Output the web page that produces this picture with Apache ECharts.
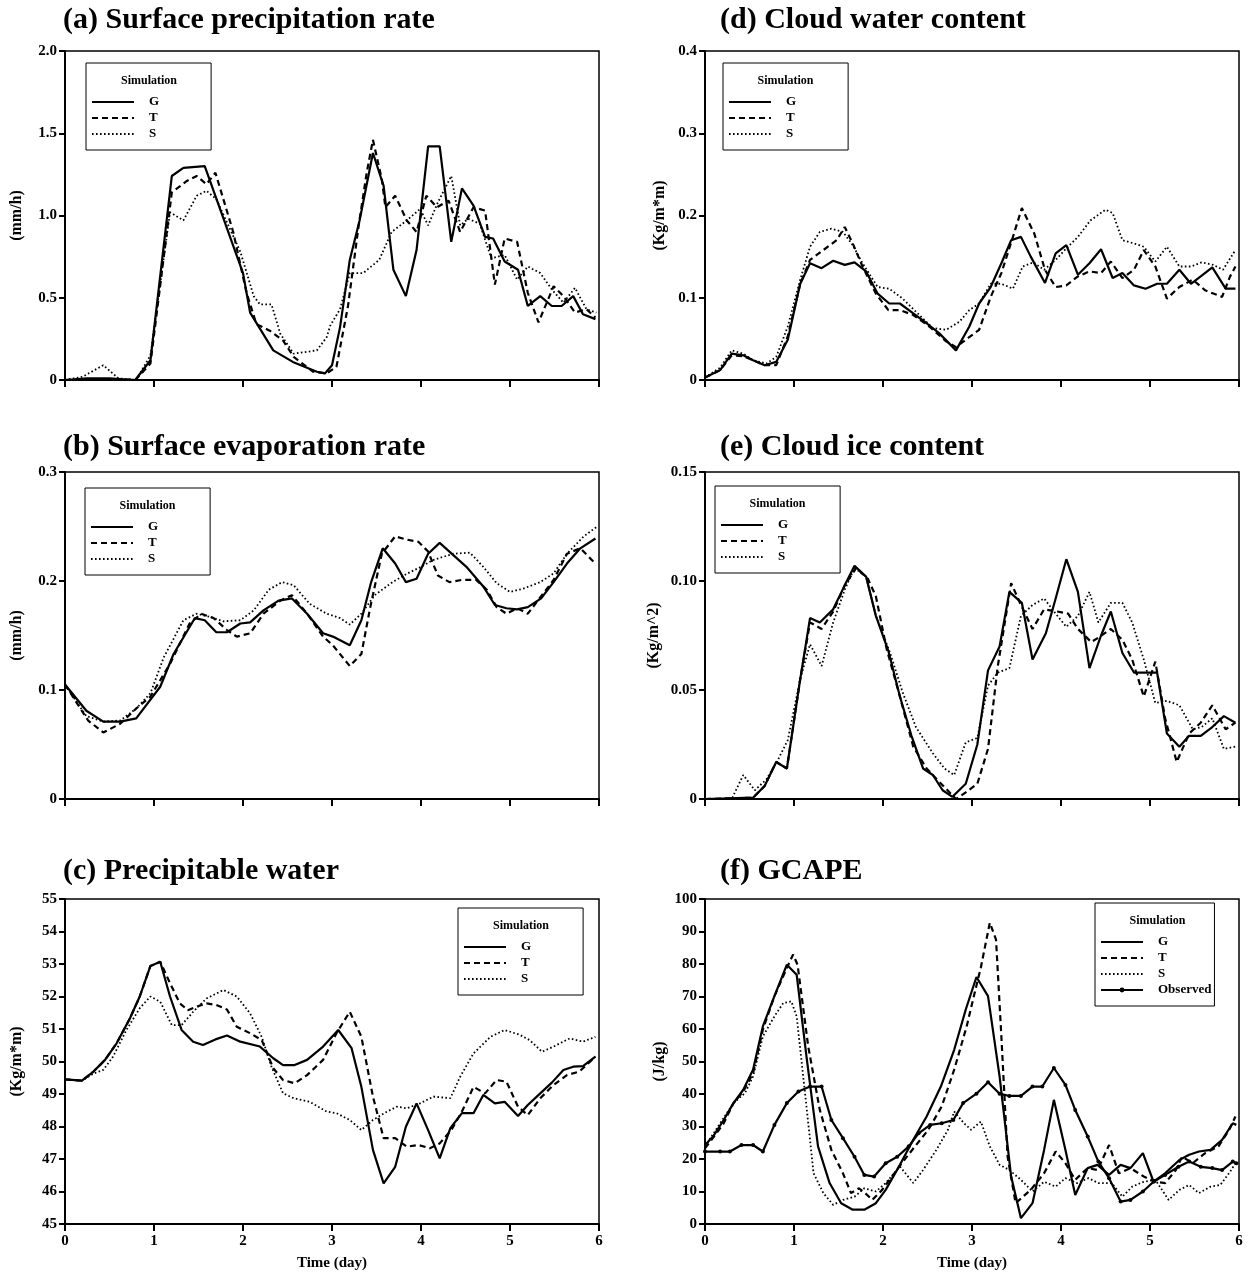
<!DOCTYPE html>
<html>
<head>
<meta charset="utf-8">
<script src="https://cdn.jsdelivr.net/npm/echarts@6/dist/echarts.min.js"></script>
<style>
html,body{margin:0;padding:0;background:#fff}
#chart{width:1250px;height:1279px}
</style>
</head>
<body>
<div id="chart"></div>
<script>
// Each series: [time (day), value] pairs.

// (a) Surface precipitation rate (mm/h)
const precipG = [[0,0],[0.25,0.01],[0.5,0.01],[0.79,0],[0.96,0.12],[1.2,1.24],[1.33,1.29],[1.57,1.30],[2.0,0.65],[2.08,0.41],[2.34,0.18],[2.56,0.11],[2.83,0.05],[2.92,0.04],[3.0,0.09],[3.09,0.32],[3.2,0.73],[3.31,0.97],[3.46,1.38],[3.58,1.18],[3.69,0.67],[3.83,0.51],[3.95,0.79],[4.08,1.42],[4.21,1.42],[4.34,0.84],[4.46,1.165],[4.59,1.06],[4.72,0.87],[4.81,0.86],[4.94,0.72],[5.09,0.67],[5.2,0.45],[5.34,0.51],[5.47,0.45],[5.58,0.45],[5.71,0.51],[5.82,0.40],[5.96,0.37]];
const precipT = [[0,0],[0.5,0.005],[0.79,0],[0.96,0.1],[1.2,1.14],[1.37,1.21],[1.48,1.24],[1.59,1.19],[1.69,1.26],[1.89,0.90],[2.04,0.53],[2.15,0.34],[2.3,0.30],[2.45,0.24],[2.57,0.14],[2.79,0.05],[2.94,0.04],[3.05,0.08],[3.18,0.45],[3.3,0.94],[3.39,1.26],[3.46,1.46],[3.56,1.22],[3.6,1.05],[3.71,1.12],[3.84,0.97],[3.95,0.90],[4.06,1.12],[4.18,1.05],[4.31,1.09],[4.44,0.90],[4.59,1.05],[4.72,1.03],[4.83,0.58],[4.94,0.86],[5.08,0.84],[5.2,0.53],[5.32,0.35],[5.49,0.57],[5.6,0.51],[5.73,0.41],[5.86,0.43],[5.96,0.38]];
const precipS = [[0,0],[0.2,0.02],[0.43,0.09],[0.6,0.01],[0.8,0.0],[0.96,0.15],[1.18,1.02],[1.33,0.97],[1.48,1.12],[1.59,1.15],[1.7,1.10],[1.97,0.78],[2.12,0.51],[2.19,0.46],[2.32,0.46],[2.42,0.28],[2.57,0.16],[2.83,0.18],[2.94,0.26],[2.98,0.33],[3.09,0.43],[3.2,0.65],[3.35,0.65],[3.53,0.73],[3.67,0.90],[3.84,0.97],[3.99,1.04],[4.08,0.94],[4.19,1.08],[4.34,1.24],[4.44,0.94],[4.53,0.98],[4.66,0.95],[4.79,0.74],[4.94,0.76],[5.08,0.61],[5.2,0.69],[5.34,0.65],[5.47,0.55],[5.6,0.47],[5.73,0.56],[5.86,0.43],[5.97,0.41]];

// (b) Surface evaporation rate (mm/h)
const evapG = [[0,0.105],[0.24,0.081],[0.43,0.071],[0.62,0.071],[0.8,0.074],[1.07,0.103],[1.22,0.133],[1.46,0.166],[1.57,0.164],[1.7,0.153],[1.82,0.153],[1.97,0.161],[2.08,0.162],[2.23,0.173],[2.4,0.182],[2.55,0.184],[2.72,0.170],[2.9,0.152],[3.01,0.149],[3.2,0.141],[3.33,0.164],[3.44,0.199],[3.57,0.23],[3.71,0.216],[3.83,0.199],[3.95,0.202],[4.08,0.225],[4.21,0.235],[4.36,0.224],[4.51,0.213],[4.7,0.195],[4.83,0.178],[4.96,0.175],[5.08,0.174],[5.2,0.176],[5.35,0.184],[5.49,0.199],[5.64,0.216],[5.79,0.23],[5.96,0.239]];
const evapT = [[0,0.105],[0.26,0.072],[0.43,0.061],[0.62,0.069],[0.8,0.083],[0.96,0.094],[1.18,0.124],[1.4,0.161],[1.53,0.170],[1.67,0.166],[1.82,0.155],[1.93,0.149],[2.08,0.152],[2.23,0.170],[2.42,0.182],[2.55,0.187],[2.72,0.170],[2.9,0.149],[3.01,0.141],[3.2,0.122],[3.33,0.133],[3.43,0.176],[3.56,0.225],[3.71,0.241],[3.84,0.238],[3.97,0.236],[4.08,0.227],[4.19,0.205],[4.32,0.199],[4.46,0.201],[4.62,0.201],[4.74,0.192],[4.85,0.176],[4.96,0.170],[5.08,0.175],[5.2,0.170],[5.35,0.186],[5.49,0.201],[5.64,0.225],[5.79,0.23],[5.96,0.216]];
const evapS = [[0,0.105],[0.24,0.076],[0.43,0.071],[0.62,0.072],[0.8,0.083],[0.96,0.097],[1.11,0.130],[1.33,0.164],[1.48,0.170],[1.63,0.167],[1.78,0.163],[1.97,0.164],[2.12,0.173],[2.29,0.192],[2.44,0.199],[2.57,0.196],[2.75,0.179],[2.94,0.170],[3.09,0.166],[3.2,0.160],[3.33,0.170],[3.48,0.187],[3.68,0.199],[3.85,0.207],[4.0,0.213],[4.13,0.219],[4.36,0.225],[4.55,0.226],[4.7,0.213],[4.85,0.198],[5.0,0.190],[5.15,0.193],[5.34,0.199],[5.49,0.207],[5.64,0.225],[5.83,0.241],[5.98,0.25]];

// (c) Precipitable water (Kg/m*m)
const pwG = [[0,49.45],[0.19,49.41],[0.32,49.69],[0.45,50.05],[0.58,50.56],[0.73,51.33],[0.84,52.0],[0.96,52.94],[1.07,53.07],[1.18,52.0],[1.31,50.97],[1.44,50.61],[1.55,50.51],[1.69,50.68],[1.82,50.8],[1.97,50.61],[2.19,50.46],[2.34,50.10],[2.45,49.89],[2.58,49.89],[2.72,50.05],[2.9,50.46],[3.07,50.97],[3.22,50.41],[3.33,49.22],[3.46,47.28],[3.58,46.25],[3.71,46.76],[3.83,47.99],[3.95,48.71],[4.08,47.89],[4.21,47.02],[4.33,47.95],[4.46,48.41],[4.59,48.41],[4.70,48.97],[4.83,48.71],[4.94,48.76],[5.09,48.32],[5.2,48.66],[5.34,49.02],[5.47,49.35],[5.6,49.74],[5.71,49.84],[5.82,49.86],[5.96,50.15]];
const pwT = [[0,49.45],[0.19,49.41],[0.32,49.69],[0.45,50.05],[0.58,50.56],[0.73,51.33],[0.84,52.0],[0.96,52.94],[1.07,53.07],[1.18,52.41],[1.29,51.79],[1.38,51.58],[1.48,51.69],[1.59,51.79],[1.7,51.74],[1.82,51.6],[1.93,51.07],[2.08,50.87],[2.21,50.66],[2.34,49.79],[2.45,49.43],[2.58,49.33],[2.72,49.58],[2.9,50.05],[3.05,50.87],[3.2,51.53],[3.33,50.76],[3.46,48.92],[3.58,47.64],[3.71,47.64],[3.84,47.38],[3.97,47.43],[4.1,47.33],[4.21,47.48],[4.34,47.89],[4.46,48.46],[4.59,49.22],[4.72,49.02],[4.85,49.43],[4.96,49.38],[5.09,48.61],[5.2,48.35],[5.34,48.87],[5.49,49.28],[5.64,49.58],[5.78,49.69],[5.96,50.15]];
const pwS = [[0,49.45],[0.19,49.41],[0.32,49.63],[0.43,49.74],[0.54,50.15],[0.69,50.97],[0.84,51.64],[0.96,52.0],[1.07,51.84],[1.2,51.12],[1.31,51.12],[1.44,51.53],[1.59,51.94],[1.78,52.2],[1.93,52.0],[2.08,51.48],[2.21,50.76],[2.32,49.84],[2.45,49.02],[2.57,48.87],[2.75,48.76],[2.94,48.46],[3.05,48.41],[3.2,48.2],[3.33,47.89],[3.46,48.2],[3.62,48.46],[3.73,48.61],[3.84,48.56],[3.99,48.71],[4.14,48.92],[4.33,48.87],[4.44,49.53],[4.59,50.25],[4.78,50.76],[4.94,50.97],[5.11,50.82],[5.22,50.66],[5.36,50.3],[5.49,50.46],[5.67,50.71],[5.82,50.61],[5.96,50.76]];

// (d) Cloud water content (Kg/m*m)
const cwG = [[0,0.003],[0.17,0.012],[0.30,0.032],[0.43,0.030],[0.54,0.024],[0.67,0.018],[0.80,0.022],[0.93,0.049],[1.07,0.117],[1.18,0.142],[1.31,0.136],[1.44,0.145],[1.57,0.14],[1.68,0.143],[1.81,0.132],[1.94,0.105],[2.07,0.093],[2.19,0.093],[2.34,0.081],[2.49,0.069],[2.63,0.057],[2.82,0.036],[2.97,0.065],[3.08,0.093],[3.21,0.113],[3.33,0.142],[3.44,0.170],[3.55,0.174],[3.66,0.150],[3.82,0.118],[3.94,0.154],[4.06,0.164],[4.19,0.128],[4.32,0.142],[4.45,0.159],[4.58,0.124],[4.69,0.130],[4.82,0.115],[4.95,0.111],[5.08,0.117],[5.19,0.117],[5.33,0.134],[5.46,0.117],[5.57,0.126],[5.70,0.137],[5.85,0.111],[5.96,0.111]];
const cwT = [[0,0.003],[0.17,0.012],[0.30,0.030],[0.43,0.029],[0.54,0.024],[0.67,0.018],[0.80,0.018],[0.93,0.053],[1.07,0.117],[1.18,0.146],[1.33,0.158],[1.48,0.170],[1.57,0.186],[1.66,0.166],[1.77,0.138],[1.92,0.105],[2.06,0.085],[2.19,0.085],[2.34,0.079],[2.52,0.065],[2.71,0.047],[2.82,0.040],[2.93,0.049],[3.08,0.061],[3.21,0.101],[3.33,0.130],[3.46,0.174],[3.56,0.209],[3.70,0.178],[3.82,0.134],[3.94,0.113],[4.06,0.115],[4.19,0.126],[4.32,0.132],[4.45,0.130],[4.56,0.144],[4.69,0.124],[4.82,0.134],[4.93,0.158],[5.06,0.138],[5.19,0.099],[5.33,0.113],[5.48,0.122],[5.62,0.109],[5.81,0.101],[5.90,0.126],[5.96,0.138]];
const cwS = [[0,0.003],[0.17,0.015],[0.30,0.036],[0.43,0.032],[0.54,0.024],[0.69,0.020],[0.80,0.028],[0.93,0.065],[1.07,0.122],[1.18,0.162],[1.29,0.180],[1.42,0.184],[1.55,0.180],[1.66,0.164],[1.77,0.142],[1.94,0.113],[2.07,0.111],[2.22,0.099],[2.37,0.083],[2.56,0.063],[2.71,0.061],[2.86,0.071],[2.97,0.085],[3.08,0.093],[3.21,0.117],[3.33,0.117],[3.46,0.111],[3.57,0.138],[3.69,0.143],[3.81,0.134],[3.94,0.146],[4.06,0.160],[4.19,0.174],[4.33,0.194],[4.50,0.207],[4.58,0.203],[4.69,0.170],[4.82,0.166],[4.93,0.162],[5.06,0.144],[5.19,0.162],[5.33,0.138],[5.46,0.138],[5.58,0.143],[5.71,0.140],[5.82,0.134],[5.96,0.158]];

// (e) Cloud ice content (Kg/m^2)
const ciG = [[0,0],[0.54,0.0006],[0.67,0.006],[0.80,0.017],[0.92,0.014],[1.07,0.055],[1.18,0.083],[1.29,0.081],[1.44,0.087],[1.57,0.098],[1.68,0.107],[1.81,0.102],[1.92,0.084],[2.06,0.068],[2.19,0.047],[2.32,0.029],[2.45,0.014],[2.56,0.011],[2.67,0.004],[2.78,0.001],[2.93,0.007],[3.06,0.025],[3.18,0.059],[3.31,0.070],[3.42,0.095],[3.56,0.090],[3.68,0.064],[3.83,0.076],[3.94,0.092],[4.06,0.110],[4.19,0.095],[4.32,0.060],[4.45,0.075],[4.56,0.086],[4.69,0.067],[4.82,0.058],[4.95,0.058],[5.08,0.058],[5.19,0.030],[5.33,0.024],[5.44,0.029],[5.57,0.029],[5.70,0.033],[5.83,0.038],[5.96,0.035]];
const ciT = [[0,0],[0.54,0.0006],[0.67,0.006],[0.80,0.017],[0.92,0.014],[1.07,0.055],[1.18,0.081],[1.31,0.078],[1.44,0.086],[1.57,0.098],[1.7,0.106],[1.83,0.101],[1.92,0.093],[2.04,0.069],[2.19,0.047],[2.34,0.024],[2.49,0.014],[2.63,0.008],[2.82,0],[2.93,0.003],[3.06,0.007],[3.18,0.023],[3.29,0.061],[3.44,0.099],[3.55,0.089],[3.68,0.078],[3.81,0.087],[3.96,0.086],[4.08,0.085],[4.19,0.078],[4.34,0.072],[4.42,0.074],[4.56,0.078],[4.69,0.073],[4.80,0.064],[4.93,0.047],[5.06,0.063],[5.17,0.037],[5.30,0.017],[5.44,0.030],[5.57,0.035],[5.70,0.043],[5.85,0.032],[5.96,0.035]];
const ciS = [[0,0],[0.30,0],[0.43,0.011],[0.56,0.004],[0.69,0.009],[0.82,0.018],[0.93,0.027],[1.07,0.055],[1.18,0.071],[1.31,0.061],[1.44,0.081],[1.57,0.096],[1.68,0.106],[1.81,0.102],[1.92,0.084],[2.08,0.067],[2.22,0.049],[2.37,0.033],[2.56,0.021],[2.69,0.014],[2.80,0.011],[2.93,0.026],[3.06,0.028],[3.18,0.052],[3.29,0.058],[3.42,0.060],[3.55,0.084],[3.68,0.089],[3.81,0.092],[3.94,0.085],[4.06,0.079],[4.19,0.084],[4.32,0.095],[4.42,0.081],[4.56,0.090],[4.69,0.090],[4.80,0.081],[4.93,0.064],[5.06,0.044],[5.19,0.045],[5.33,0.043],[5.48,0.032],[5.58,0.033],[5.70,0.037],[5.83,0.023],[5.96,0.024]];

// (f) GCAPE (J/kg)
const gcG = [[0,24.3],[0.09,26.9],[0.21,32.0],[0.32,37.2],[0.43,41.3],[0.54,47.5],[0.65,60.8],[0.78,70.1],[0.92,79.8],[1.03,76.7],[1.14,51.6],[1.27,23.9],[1.40,12.6],[1.53,6.4],[1.66,4.4],[1.79,4.4],[1.92,6.4],[2.03,10.5],[2.19,18.2],[2.34,25.9],[2.49,33.1],[2.65,42.3],[2.80,53.6],[2.93,66.0],[3.05,76.0],[3.18,70.1],[3.31,45.4],[3.44,14.6],[3.55,1.8],[3.68,6.4],[3.81,22.8],[3.92,38.2],[4.05,22.8],[4.16,8.9],[4.30,17.2],[4.41,18.2],[4.54,15.1],[4.67,18.2],[4.78,17.2],[4.92,21.8],[5.04,13.0],[5.17,15.6],[5.33,19.7],[5.44,21.3],[5.55,22.3],[5.68,22.8],[5.81,25.9],[5.93,31.0],[5.97,30.5]];
const gcT = [[0,23.3],[0.09,26.5],[0.21,31.0],[0.32,37.2],[0.43,40.8],[0.54,46.4],[0.65,59.8],[0.78,70.1],[0.92,78.8],[0.99,82.9],[1.04,79.8],[1.16,54.6],[1.29,35.1],[1.42,22.8],[1.55,15.6],[1.64,9.5],[1.73,11.0],[1.80,9.5],[1.88,7.4],[1.99,10.5],[2.10,14.6],[2.21,18.7],[2.36,23.9],[2.51,29.0],[2.66,36.2],[2.80,47.5],[2.94,60.8],[3.02,70.0],[3.10,79.0],[3.20,92.7],[3.27,87.5],[3.33,57.7],[3.40,20.7],[3.49,6.4],[3.66,10.5],[3.81,15.6],[3.94,22.3],[4.05,18.7],[4.16,13.6],[4.30,17.2],[4.41,16.6],[4.54,24.3],[4.65,15.6],[4.78,17.2],[4.93,14.6],[5.06,13.0],[5.17,12.6],[5.29,16.6],[5.36,20.7],[5.48,18.7],[5.62,21.8],[5.77,23.9],[5.89,29.0],[5.96,33.1]];
const gcS = [[0,23.9],[0.32,37.2],[0.45,40.3],[0.54,45.4],[0.65,57.7],[0.78,63.9],[0.88,68.0],[0.97,68.5],[1.03,63.9],[1.14,36.2],[1.22,15.6],[1.33,9.5],[1.44,5.9],[1.55,7.4],[1.68,8.4],[1.79,11.0],[1.92,10.0],[2.03,12.6],[2.19,17.7],[2.34,12.6],[2.45,16.6],[2.60,22.8],[2.73,29.0],[2.80,34.6],[2.91,31.0],[2.99,29.0],[3.10,31.5],[3.20,23.9],[3.31,18.2],[3.42,16.6],[3.55,13.6],[3.68,10.0],[3.81,13.0],[3.94,11.5],[4.05,14.1],[4.18,12.6],[4.31,14.1],[4.42,12.6],[4.57,12.6],[4.69,8.4],[4.80,11.5],[4.93,13.0],[5.06,13.6],[5.21,7.4],[5.33,10.5],[5.44,12.0],[5.55,9.5],[5.68,11.5],[5.79,12.0],[5.90,16.1],[5.96,18.7]];
const gcObs = [[0,22.3],[0.17,22.3],[0.28,22.3],[0.41,24.3],[0.54,24.3],[0.65,22.3],[0.78,30.5],[0.92,37.2],[1.05,40.8],[1.18,42.3],[1.31,42.3],[1.42,32.0],[1.55,26.4],[1.68,20.7],[1.79,15.1],[1.90,14.6],[2.03,18.7],[2.16,20.7],[2.29,23.9],[2.40,27.9],[2.53,30.5],[2.66,31.0],[2.79,32.0],[2.90,37.2],[3.05,40.1],[3.18,43.6],[3.31,40.1],[3.42,39.4],[3.55,39.4],[3.68,42.3],[3.79,42.3],[3.92,48.0],[4.05,42.8],[4.16,35.1],[4.30,26.9],[4.42,19.2],[4.54,14.1],[4.67,6.9],[4.78,7.4],[4.92,10.0],[5.04,13.0],[5.17,15.1],[5.32,17.6],[5.44,19.2],[5.57,17.6],[5.70,17.2],[5.81,16.6],[5.93,19.2],[5.97,18.7]];

const dayTicks = ['0','1','2','3','4','5','6'];

const FONT = '"Liberation Serif","Times New Roman",serif';
const colLeft = [65, 705];
const plotW = 534;
const rowTop = [51, 472, 899];
const rowH = [329, 327, 325];
const titleTops = [5, 432, 856];

const panels = [
  {title:'(a) Surface precipitation rate', unit:'(mm/h)', min:0, max:2, step:0.5, dec:1, col:0, row:0,
   lines:{G:precipG, T:precipT, S:precipS}, box:[86,63,126], nameGap:40},
  {title:'(b) Surface evaporation rate', unit:'(mm/h)', min:0, max:0.3, step:0.1, dec:1, col:0, row:1,
   lines:{G:evapG, T:evapT, S:evapS}, box:[85,488,125], nameGap:40},
  {title:'(c) Precipitable water', unit:'(Kg/m*m)', min:45, max:55, step:1, dec:0, col:0, row:2,
   lines:{G:pwG, T:pwT, S:pwS}, box:[458,908,126], nameGap:40},
  {title:'(d) Cloud water content', unit:'(Kg/m*m)', min:0, max:0.4, step:0.1, dec:1, col:1, row:0,
   lines:{G:cwG, T:cwT, S:cwS}, box:[723,63,125], nameGap:37},
  {title:'(e) Cloud ice content', unit:'(Kg/m^2)', min:0, max:0.15, step:0.05, dec:2, col:1, row:1,
   lines:{G:ciG, T:ciT, S:ciS}, box:[715,486,125], nameGap:43},
  {title:'(f) GCAPE', unit:'(J/kg)', min:0, max:100, step:10, dec:0, col:1, row:2,
   lines:{G:gcG, T:gcT, S:gcS, Observed:gcObs}, box:[1095,903,125], nameGap:37}
];

const lineStyles = {
  G: {type:'solid', width:2.2},
  T: {type:[6,4], width:2.2},
  S: {type:[1.6,2.4], width:1.8},
  Observed: {type:'solid', width:2.2}
};

const titles = [], grids = [], xAxes = [], yAxes = [], series = [], legends = [], graphics = [];

panels.forEach((p, i) => {
  const bottomRow = p.row === 2;
  titles.push({
    text: p.title, left: p.col === 0 ? 63 : 720, top: titleTops[p.row], padding: 0,
    textStyle: {fontFamily: FONT, fontWeight: 'bold', fontSize: 30, color: '#000'}
  });
  grids.push({
    left: colLeft[p.col], top: rowTop[p.row], width: plotW, height: rowH[p.row],
    show: true, borderColor: '#000', borderWidth: 1.5, backgroundColor: 'transparent'
  });
  xAxes.push({
    gridIndex: i, type: 'value', min: 0, max: 6, interval: 1,
    axisLine: {onZero: false, lineStyle: {color: '#000', width: 2}},
    axisTick: {show: true, length: 7, lineStyle: {color: '#000', width: 2}},
    splitLine: {show: false},
    axisLabel: {show: bottomRow, margin: 10, color: '#000', fontFamily: FONT, fontWeight: 'bold', fontSize: 15,
      formatter: v => dayTicks[Math.round(v)]},
    name: bottomRow ? 'Time (day)' : '', nameLocation: 'middle', nameGap: 32,
    nameTextStyle: {color: '#000', fontFamily: FONT, fontWeight: 'bold', fontSize: 15}
  });
  yAxes.push({
    gridIndex: i, type: 'value', min: p.min, max: p.max, interval: p.step,
    axisLine: {show: true, onZero: false, lineStyle: {color: '#000', width: 2}},
    axisTick: {show: true, length: 6, lineStyle: {color: '#000', width: 2}},
    splitLine: {show: false},
    axisLabel: {margin: 8, color: '#000', fontFamily: FONT, fontWeight: 'bold', fontSize: 15,
      formatter: v => (Math.abs(v) < 1e-9 ? '0' : (+v).toFixed(p.dec))},
    name: p.unit, nameLocation: 'middle', nameGap: p.nameGap, nameRotate: 90,
    nameTextStyle: {color: '#000', fontFamily: FONT, fontWeight: 'bold', fontSize: 16}
  });
  const names = Object.keys(p.lines);
  names.forEach(n => {
    const isObs = n === 'Observed';
    series.push({
      type: 'line', name: n, xAxisIndex: i, yAxisIndex: i, data: p.lines[n],
      symbol: isObs ? 'circle' : 'none', symbolSize: isObs ? 4 : 0, showSymbol: isObs,
      color: '#000', itemStyle: {color: '#000'},
      lineStyle: Object.assign({color: '#000'}, lineStyles[n]),
      animation: false, silent: true, z: isObs ? 3 : 2
    });
  });
  const [bx, by, bw] = p.box;
  const rightPad = names.length > 3 ? 3 : 52;
  legends.push({
    data: names.map(n => n === 'Observed' ? {name: n} : {name: n, itemStyle: {opacity: 0}}),
    orient: 'vertical', left: bx, top: by,
    padding: [32, rightPad, 9, 5],
    itemWidth: 42, itemHeight: 6, itemGap: 2,
    borderColor: '#000', borderWidth: 1, backgroundColor: '#fff',
    selectedMode: false,
    textStyle: {color: '#000', fontFamily: FONT, fontWeight: 'bold', fontSize: 13, lineHeight: 14, padding: [0,0,0,10]}
  });
  graphics.push({
    type: 'text', x: bx + bw / 2, y: by + 18, z: 100,
    style: {text: 'Simulation', font: 'bold 12px ' + FONT, fill: '#000', align: 'center', verticalAlign: 'middle'}
  });
});

const chart = echarts.init(document.getElementById('chart'), null, {renderer: 'canvas'});
chart.setOption({
  animation: false,
  backgroundColor: '#fff',
  title: titles,
  grid: grids,
  xAxis: xAxes,
  yAxis: yAxes,
  legend: legends,
  graphic: {elements: graphics},
  series: series
});
</script>
</body>
</html>
